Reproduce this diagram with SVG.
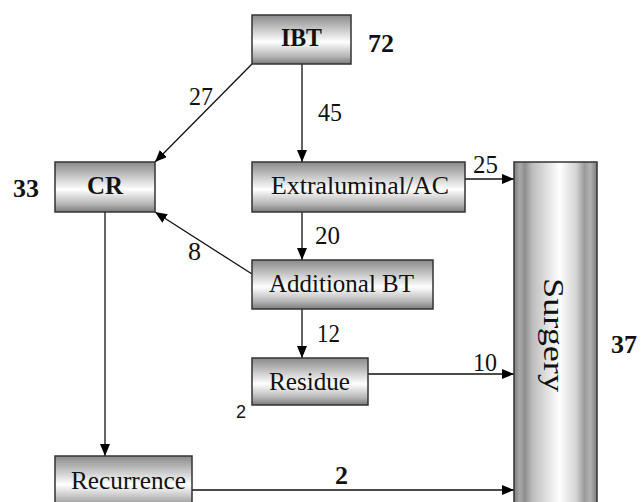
<svg xmlns="http://www.w3.org/2000/svg" width="641" height="502" viewBox="0 0 641 502">
<style>
.box{stroke:#333;stroke-width:1.5;fill:url(#gbox)}
text{font-family:'Liberation Serif','Times New Roman','DejaVu Serif',serif;font-size:26px;fill:#111}
.b{font-weight:bold}
.c{stroke:#111;stroke-width:1.3;fill:none;marker-end:url(#ah)}
</style>
<defs>
<linearGradient id="gbox" x1="0" y1="0" x2="0" y2="1">
<stop offset="0" stop-color="#8a8a8a"/>
<stop offset="0.15" stop-color="#a9a9a9"/>
<stop offset="0.55" stop-color="#ffffff"/>
<stop offset="0.85" stop-color="#b3b3b3"/>
<stop offset="1" stop-color="#7a7a7a"/>
</linearGradient>
<linearGradient id="gsurg" x1="0" y1="0" x2="1" y2="0">
<stop offset="0" stop-color="#7d7d7d"/>
<stop offset="0.07" stop-color="#a8a8a8"/>
<stop offset="0.13" stop-color="#8e8e8e"/>
<stop offset="0.22" stop-color="#bdbdbd"/>
<stop offset="0.55" stop-color="#ffffff"/>
<stop offset="0.75" stop-color="#d3d3d3"/>
<stop offset="0.85" stop-color="#9a9a9a"/>
<stop offset="0.92" stop-color="#b3b3b3"/>
<stop offset="1" stop-color="#7d7d7d"/>
</linearGradient>
<marker id="ah" viewBox="0 0 12 10" refX="12" refY="5" markerWidth="12" markerHeight="10" markerUnits="userSpaceOnUse" orient="auto">
<path d="M0,0 L12,5 L0,10 Z" fill="#000"/>
</marker>
</defs>
<g id="connectors">
<line class="c" x1="252" y1="64" x2="155" y2="162"/>
<line class="c" x1="302" y1="64" x2="302" y2="162"/>
<line class="c" x1="465" y1="179" x2="514" y2="179"/>
<line class="c" x1="302" y1="212" x2="302" y2="260"/>
<line class="c" x1="252" y1="274" x2="155" y2="212"/>
<line class="c" x1="302" y1="309" x2="302" y2="358"/>
<line class="c" x1="368" y1="374" x2="514" y2="374"/>
<line class="c" x1="105" y1="212" x2="105" y2="456"/>
<line class="c" x1="192" y1="490" x2="514" y2="490"/>
<text x="189" y="105" textLength="24" lengthAdjust="spacingAndGlyphs">27</text>
<text x="318" y="121" textLength="24" lengthAdjust="spacingAndGlyphs">45</text>
<text x="473" y="173" textLength="25" lengthAdjust="spacingAndGlyphs">25</text>
<text x="315" y="244" textLength="25" lengthAdjust="spacingAndGlyphs">20</text>
<text x="188" y="260">8</text>
<text x="317" y="342" textLength="23" lengthAdjust="spacingAndGlyphs">12</text>
<text x="473" y="371" textLength="24" lengthAdjust="spacingAndGlyphs">10</text>
<text class="b" x="335" y="484">2</text>
</g>
<g id="ibt">
<rect class="box" x="252" y="15" width="99" height="49"/>
<text class="b" x="281" y="46" textLength="41" lengthAdjust="spacingAndGlyphs">IBT</text>
<text class="b" x="368" y="52" textLength="26" lengthAdjust="spacingAndGlyphs">72</text>
</g>
<g id="cr">
<rect class="box" x="55" y="162" width="100" height="50"/>
<text class="b" x="87" y="194" textLength="36" lengthAdjust="spacingAndGlyphs">CR</text>
<text class="b" x="13" y="197" textLength="26" lengthAdjust="spacingAndGlyphs">33</text>
</g>
<g id="extraluminal">
<rect class="box" x="252" y="162" width="213" height="50"/>
<text x="271" y="194" textLength="178" lengthAdjust="spacingAndGlyphs">Extraluminal/AC</text>
</g>
<g id="additional">
<rect class="box" x="252" y="260" width="181" height="49"/>
<text x="269" y="292" textLength="145" lengthAdjust="spacingAndGlyphs">Additional BT</text>
</g>
<g id="residue">
<rect class="box" x="252" y="358" width="116" height="47"/>
<text x="269" y="390" textLength="81" lengthAdjust="spacingAndGlyphs">Residue</text>
<text x="236" y="418" style="font-family:'Liberation Sans',Arial,sans-serif;font-size:18px">2</text>
</g>
<g id="recurrence">
<rect class="box" x="55" y="456" width="137" height="52"/>
<text x="71" y="489" textLength="115" lengthAdjust="spacingAndGlyphs">Recurrence</text>
</g>
<g id="surgery">
<rect x="514" y="162" width="83" height="350" stroke="#333" stroke-width="1.5" fill="url(#gsurg)"/>
<text transform="translate(544,278) rotate(90)" style="font-size:30px" textLength="114" lengthAdjust="spacingAndGlyphs">Surgery</text>
<text class="b" x="611" y="353" textLength="26" lengthAdjust="spacingAndGlyphs">37</text>
</g>
</svg>
